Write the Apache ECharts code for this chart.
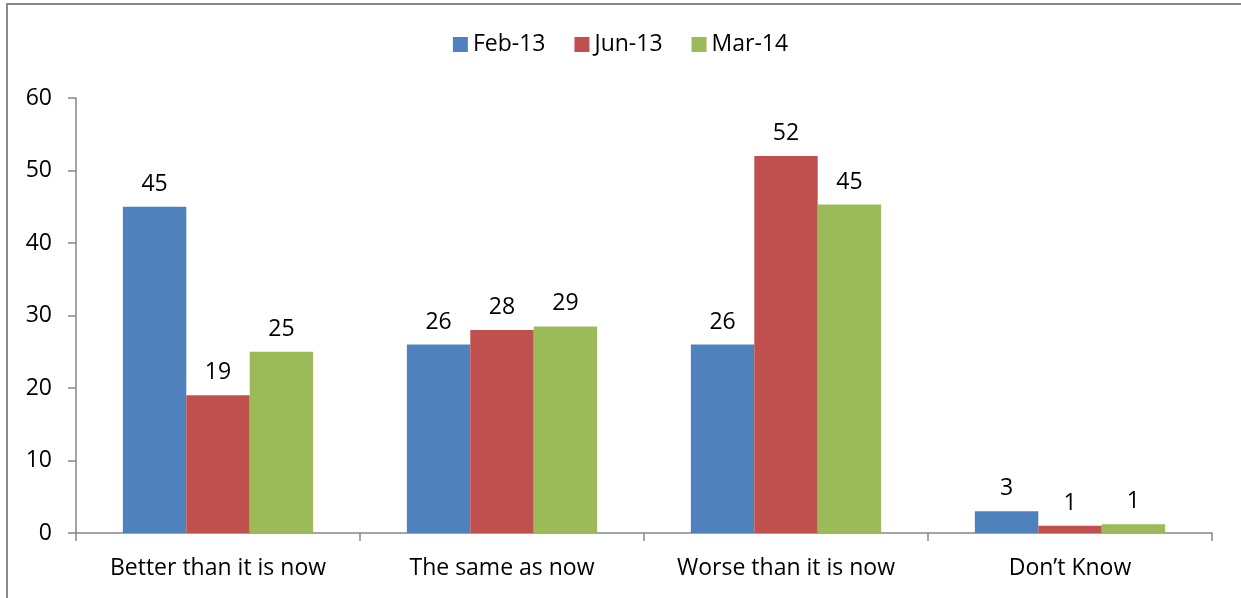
<!DOCTYPE html>
<html>
<head>
<meta charset="utf-8">
<script src="https://cdn.jsdelivr.net/npm/echarts@6/dist/echarts.min.js"></script>
<style>
  html, body { margin: 0; padding: 0; background: #fff; overflow: hidden; }
  #frame {
    position: absolute; left: 6px; top: 3px; width: 1250px; height: 620px;
    border: 2px solid #898989; box-sizing: border-box;
  }
  #chart { position: absolute; left: 0; top: 0; width: 1241px; height: 598px; }
</style>
</head>
<body>
<div id="frame"></div>
<div id="chart"></div>
<script>
const categories = ["Better than it is now", "The same as now", "Worse than it is now", "Don\u2019t Know"];
const feb13 = [45, 26, 26, 3];
const jun13 = [19, 28, 52, 1];
const mar14 = [25, 28.5, 45.3, 1.2];
const yTicks = { min: 0, max: 60, interval: 10 };

const chart = echarts.init(document.getElementById("chart"));
window.addEventListener("resize", () => {
  chart.resize();
});

const font = "'Open Sans', sans-serif";
const axisColor = "#868686";

function barSeries(name, data, color) {
  return {
    type: "bar",
    name: name,
    data: data,
    barGap: "0%",
    barCategoryGap: "33%",
    itemStyle: { color: color },
    label: {
      show: true,
      position: "top",
      distance: 11,
      color: "#000",
      fontSize: 23,
      fontFamily: font,
      formatter: (p) => Math.round(p.value),
    },
  };
}

chart.setOption({
  animation: false,
  textStyle: { fontFamily: font },
  grid: { left: 76, right: 29, top: 98, bottom: 65 },
  legend: {
    top: 28,
    left: "center",
    itemWidth: 15,
    itemHeight: 15,
    itemGap: 29,
    icon: "rect",
    textStyle: { color: "#000", fontSize: 23, fontFamily: font },
  },
  xAxis: {
    type: "category",
    data: categories,
    axisLine: { lineStyle: { color: axisColor, width: 1.5 } },
    axisTick: { show: true, length: 8, lineStyle: { color: axisColor, width: 1.5 } },
    axisLabel: { color: "#000", fontSize: 23, fontFamily: font, margin: 24, interval: 0 },
    splitLine: { show: false },
  },
  yAxis: {
    type: "value",
    min: yTicks.min,
    max: yTicks.max,
    interval: yTicks.interval,
    axisLine: { show: true, lineStyle: { color: axisColor, width: 1.5 } },
    axisTick: { show: true, length: 8, lineStyle: { color: axisColor, width: 1.5 } },
    axisLabel: { color: "#000", fontSize: 23, fontFamily: font, margin: 24 },
    splitLine: { show: false },
  },
  series: [
    barSeries("Feb-13", feb13, "#4F81BD"),
    barSeries("Jun-13", jun13, "#C0504D"),
    barSeries("Mar-14", mar14, "#9BBB59"),
  ],
});
</script>
</body>
</html>
